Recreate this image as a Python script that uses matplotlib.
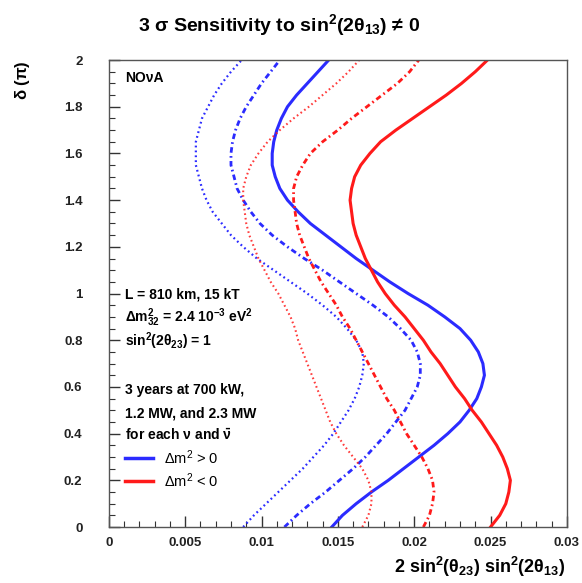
import matplotlib
matplotlib.use("Agg")
import matplotlib.pyplot as plt
from matplotlib.ticker import MultipleLocator, FixedFormatter, FixedLocator

plt.rcParams['font.family'] = ['Liberation Sans', 'DejaVu Sans']
plt.rcParams['mathtext.default'] = 'regular'

# delta CP in units of pi, read every 0.05
delta = [0.00, 0.05, 0.10, 0.15, 0.20, 0.25, 0.30, 0.35, 0.40, 0.45,
         0.50, 0.55, 0.60, 0.65, 0.70, 0.75, 0.80, 0.85, 0.90, 0.95,
         1.00, 1.05, 1.10, 1.15, 1.20, 1.25, 1.30, 1.35, 1.40, 1.45,
         1.50, 1.55, 1.60, 1.65, 1.70, 1.75, 1.80, 1.85, 1.90, 1.95, 2.00]

# normal hierarchy (dm2 > 0)
nh_700kw = [0.0146, 0.0153, 0.0162, 0.0172, 0.0183, 0.0193, 0.0203, 0.0213, 0.0222, 0.0230,
            0.0236, 0.0241, 0.0244, 0.0246, 0.0245, 0.0242, 0.0237, 0.0230, 0.0220, 0.0209,
            0.0196, 0.0184, 0.0173, 0.0162, 0.0152, 0.0142, 0.0132, 0.0124, 0.0117, 0.0112,
            0.0109, 0.0107, 0.0107, 0.0108, 0.0110, 0.0113, 0.0117, 0.0123, 0.0130, 0.0137, 0.0144]
nh_1200kw = [0.0115, 0.0123, 0.0132, 0.0142, 0.0151, 0.0160, 0.0168, 0.0175, 0.0182, 0.0188,
             0.0194, 0.0198, 0.0202, 0.0204, 0.0204, 0.0202, 0.0198, 0.0191, 0.0183, 0.0173,
             0.0162, 0.0151, 0.0140, 0.0128, 0.0117, 0.0107, 0.0099, 0.0093, 0.0088, 0.0084,
             0.0082, 0.0080, 0.0080, 0.0081, 0.0083, 0.0086, 0.0090, 0.0095, 0.0100, 0.0106, 0.0112]
nh_2300kw = [0.0088, 0.0095, 0.0103, 0.0111, 0.0119, 0.0127, 0.0134, 0.0141, 0.0147, 0.0152,
             0.0157, 0.0161, 0.0164, 0.0166, 0.0167, 0.0166, 0.0162, 0.0156, 0.0149, 0.0140,
             0.0130, 0.0119, 0.0108, 0.0097, 0.0088, 0.0080, 0.0074, 0.0068, 0.0064, 0.0061,
             0.0059, 0.0057, 0.0057, 0.0057, 0.0059, 0.0061, 0.0065, 0.0069, 0.0074, 0.0080, 0.0087]

# inverted hierarchy (dm2 < 0)
ih_700kw = [0.0250, 0.0256, 0.0260, 0.0262, 0.0263, 0.0261, 0.0258, 0.0254, 0.0249, 0.0244,
            0.0238, 0.0233, 0.0227, 0.0222, 0.0217, 0.0211, 0.0206, 0.0200, 0.0194, 0.0187,
            0.0181, 0.0176, 0.0172, 0.0168, 0.0165, 0.0162, 0.0160, 0.0159, 0.0158, 0.0159,
            0.0161, 0.0165, 0.0171, 0.0178, 0.0188, 0.0199, 0.0210, 0.0221, 0.0231, 0.0240, 0.0248]
ih_1200kw = [0.0206, 0.0210, 0.0212, 0.0213, 0.0212, 0.0209, 0.0205, 0.0200, 0.0195, 0.0191,
             0.0187, 0.0182, 0.0178, 0.0174, 0.0170, 0.0166, 0.0162, 0.0158, 0.0153, 0.0149,
             0.0144, 0.0139, 0.0135, 0.0131, 0.0128, 0.0125, 0.0123, 0.0122, 0.0121, 0.0121,
             0.0123, 0.0127, 0.0132, 0.0140, 0.0150, 0.0159, 0.0169, 0.0179, 0.0189, 0.0197, 0.0203]
ih_2300kw = [0.0166, 0.0170, 0.0172, 0.0172, 0.0170, 0.0166, 0.0160, 0.0154, 0.0149, 0.0145,
             0.0142, 0.0139, 0.0136, 0.0133, 0.0130, 0.0127, 0.0124, 0.0122, 0.0119, 0.0115,
             0.0111, 0.0106, 0.0102, 0.0098, 0.0095, 0.0092, 0.0090, 0.0089, 0.0088, 0.0088,
             0.0090, 0.0093, 0.0098, 0.0104, 0.0112, 0.0121, 0.0131, 0.0140, 0.0149, 0.0157, 0.0164]

xticks = [0, 0.005, 0.01, 0.015, 0.02, 0.025, 0.03]
xlabels = ["0", "0.005", "0.01", "0.015", "0.02", "0.025", "0.03"]
yticks = [0, 0.2, 0.4, 0.6, 0.8, 1, 1.2, 1.4, 1.6, 1.8, 2]
ylabels = ["0", "0.2", "0.4", "0.6", "0.8", "1", "1.2", "1.4", "1.6", "1.8", "2"]

BLUE = "#2b2bff"
RED = "#ff1a1a"
DASHDOT = (0, (2.0, 1.2, 0.6, 1.2))
DOTTED = (0, (0.8, 1.4))

fig = plt.figure(figsize=(5.82, 5.83), dpi=100)
ax = fig.add_axes([0.187, 0.096, 0.787, 0.801])

ax.plot(nh_700kw, delta, color=BLUE, lw=2.2)
ax.plot(nh_1200kw, delta, color=BLUE, lw=2.0, ls=DASHDOT)
ax.plot(nh_2300kw, delta, color=BLUE, lw=1.6, ls=DOTTED)
ax.plot(ih_700kw, delta, color=RED, lw=2.2)
ax.plot(ih_1200kw, delta, color=RED, lw=2.0, ls=DASHDOT)
ax.plot(ih_2300kw, delta, color=RED, lw=1.5, ls=DOTTED, alpha=0.85)

ax.set_xlim(0, 0.03)
ax.set_ylim(0, 2)
ax.xaxis.set_major_locator(FixedLocator(xticks))
ax.xaxis.set_major_formatter(FixedFormatter(xlabels))
ax.yaxis.set_major_locator(FixedLocator(yticks))
ax.yaxis.set_major_formatter(FixedFormatter(ylabels))
ax.xaxis.set_minor_locator(MultipleLocator(0.001))
ax.yaxis.set_minor_locator(MultipleLocator(0.05))
ax.tick_params(which="both", direction="in", top=False, right=False, color="#333333")
ax.tick_params(which="major", length=8, width=1.0)
ax.tick_params(which="minor", length=4, width=0.8)
ax.tick_params(axis="y", pad=19, labelsize=9.5)
ax.tick_params(axis="x", pad=7, labelsize=9.5)
for lab in ax.get_xticklabels() + ax.get_yticklabels():
    lab.set_fontweight("bold")
    lab.set_color("#222222")
for sp in ax.spines.values():
    sp.set_color("#555555")
    sp.set_linewidth(1.0)

fig.text(0.48, 0.957, r"3 $\sigma$ Sensitivity to sin$^{2}$(2$\theta_{13}$) ≠ 0",
         ha="center", va="center", fontsize=14, fontweight="bold")
fig.text(0.038, 0.897, r"$\delta$ ($\pi$)", rotation=90, ha="center", va="top",
         fontsize=12, fontweight="bold")
fig.text(0.972, 0.028, r"2 sin$^{2}$($\theta_{23}$) sin$^{2}$(2$\theta_{13}$)",
         ha="right", va="center", fontsize=13, fontweight="bold")

tx = 0.00105
ax.text(tx, 1.925, "NOνA", fontsize=10, fontweight="bold", va="center")
ax.text(tx, 0.995, "L = 810 km, 15 kT", fontsize=10, fontweight="bold", va="center")
ax.text(tx, 0.895, r"$\Delta$m$_{32}^{2}$ = 2.4 10$^{-3}$ eV$^{2}$", fontsize=10,
        fontweight="bold", va="center")
ax.text(tx, 0.797, r"sin$^{2}$(2$\theta_{23}$) = 1", fontsize=10, fontweight="bold", va="center")
ax.text(tx, 0.587, "3 years at 700 kW,", fontsize=10, fontweight="bold", va="center")
ax.text(tx, 0.488, "1.2 MW, and 2.3 MW", fontsize=10, fontweight="bold", va="center")
ax.text(tx, 0.394, r"for each $\nu$ and $\bar{\nu}$", fontsize=10, fontweight="bold", va="center")

ax.plot([0.00105, 0.0029], [0.295, 0.295], color=BLUE, lw=2.5)
ax.plot([0.00105, 0.0029], [0.197, 0.197], color=RED, lw=2.5)
ax.text(0.0036, 0.295, r"$\Delta$m$^{2}$ > 0", fontsize=10.5, va="center")
ax.text(0.0036, 0.197, r"$\Delta$m$^{2}$ < 0", fontsize=10.5, va="center")

fig.savefig("out.png", dpi=100)
